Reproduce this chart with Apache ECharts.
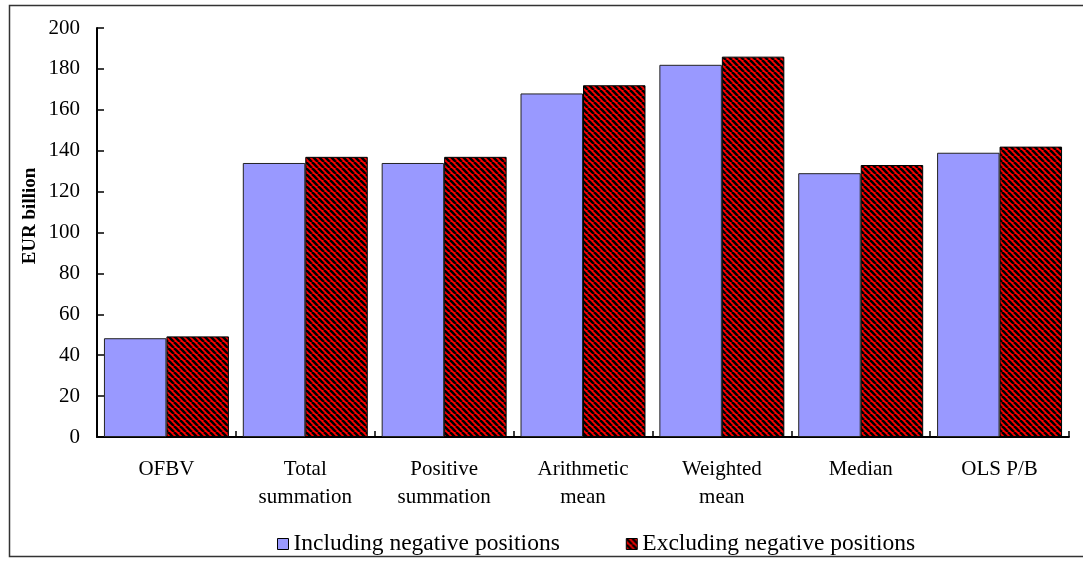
<!DOCTYPE html>
<html><head><meta charset="utf-8">
<script src="https://cdn.jsdelivr.net/npm/echarts@6/dist/echarts.min.js"></script>
<style>html,body{margin:0;padding:0;background:#fff}#c{width:1083px;height:563px}</style>
</head><body><div id="c"></div>
<script>
const categories = ['OFBV', 'Total\nsummation', 'Positive\nsummation', 'Arithmetic\nmean', 'Weighted\nmean', 'Median', 'OLS P/B'];
const includingNegative = [48.3, 134, 134, 168, 182, 129, 139];
const excludingNegative = [49.2, 137, 137, 172, 186, 133, 142];
const seriesNames = ['Including negative positions', 'Excluding negative positions'];
const yTicks = { min: 0, max: 200, interval: 20 };
const yAxisTitle = 'EUR billion';

function stripePattern() {
  const s = 6;
  const c = document.createElement('canvas');
  c.width = s; c.height = s;
  const g = c.getContext('2d');
  g.fillStyle = '#ff0000';
  g.fillRect(0, 0, s, s);
  g.strokeStyle = '#000000';
  g.lineWidth = 2.6;
  for (let k = -s; k <= 2 * s; k += s) {
    g.beginPath();
    g.moveTo(k, 0);
    g.lineTo(k + s, s);
    g.stroke();
  }
  return c;
}
const pat = { image: stripePattern(), repeat: 'repeat' };
const font = '"Liberation Serif", "Times New Roman", serif';

const chart = echarts.init(document.getElementById('c'));
chart.setOption({
  animation: false,
  textStyle: { fontFamily: font },
  graphic: [
    {
      type: 'rect', silent: true, z: -1,
      shape: { x: 9.5, y: 5.5, width: 1090, height: 551 },
      style: { fill: 'none', stroke: '#333', lineWidth: 1.5 }
    },
    {
      type: 'text', silent: true, x: 30, y: 216, rotation: Math.PI / 2,
      style: { text: yAxisTitle, fontSize: 19, fontWeight: 'bold', fontFamily: font, fill: '#000', align: 'center', verticalAlign: 'middle' }
    }
  ],
  grid: { left: 97, right: 14, top: 28, bottom: 126 },
  legend: {
    bottom: 2, left: 272, itemGap: 66, itemWidth: 11, itemHeight: 11,
    textStyle: { fontFamily: font, fontSize: 23.5, color: '#000' },
    data: [
      { name: seriesNames[0], icon: 'rect', itemStyle: { color: '#9999ff', borderColor: '#000', borderWidth: 1 } },
      { name: seriesNames[1], icon: 'rect', itemStyle: { color: pat, borderColor: '#000', borderWidth: 1 } }
    ]
  },
  xAxis: {
    type: 'category', data: categories,
    axisLine: { lineStyle: { color: '#000', width: 2 } },
    axisTick: { show: true, inside: true, length: 6, alignWithLabel: false, lineStyle: { color: '#000', width: 1.5 } },
    axisLabel: { color: '#000', fontSize: 21, fontFamily: font, margin: 18, lineHeight: 28, interval: 0 }
  },
  yAxis: {
    type: 'value', min: yTicks.min, max: yTicks.max, interval: yTicks.interval,
    axisLine: { show: true, lineStyle: { color: '#000', width: 2 } },
    axisTick: { show: true, inside: true, length: 7, lineStyle: { color: '#000', width: 1.5 } },
    axisLabel: { color: '#000', fontSize: 21, fontFamily: font, margin: 17 },
    splitLine: { show: false }
  },
  series: [
    {
      name: seriesNames[0], type: 'bar', data: includingNegative,
      barCategoryGap: '10%', barGap: '0%',
      itemStyle: { color: '#9999ff', borderColor: '#222', borderWidth: 1 }
    },
    {
      name: seriesNames[1], type: 'bar', data: excludingNegative,
      barCategoryGap: '10%', barGap: '0%',
      itemStyle: { color: pat, borderColor: '#000', borderWidth: 1 }
    }
  ]
});
</script></body></html>
